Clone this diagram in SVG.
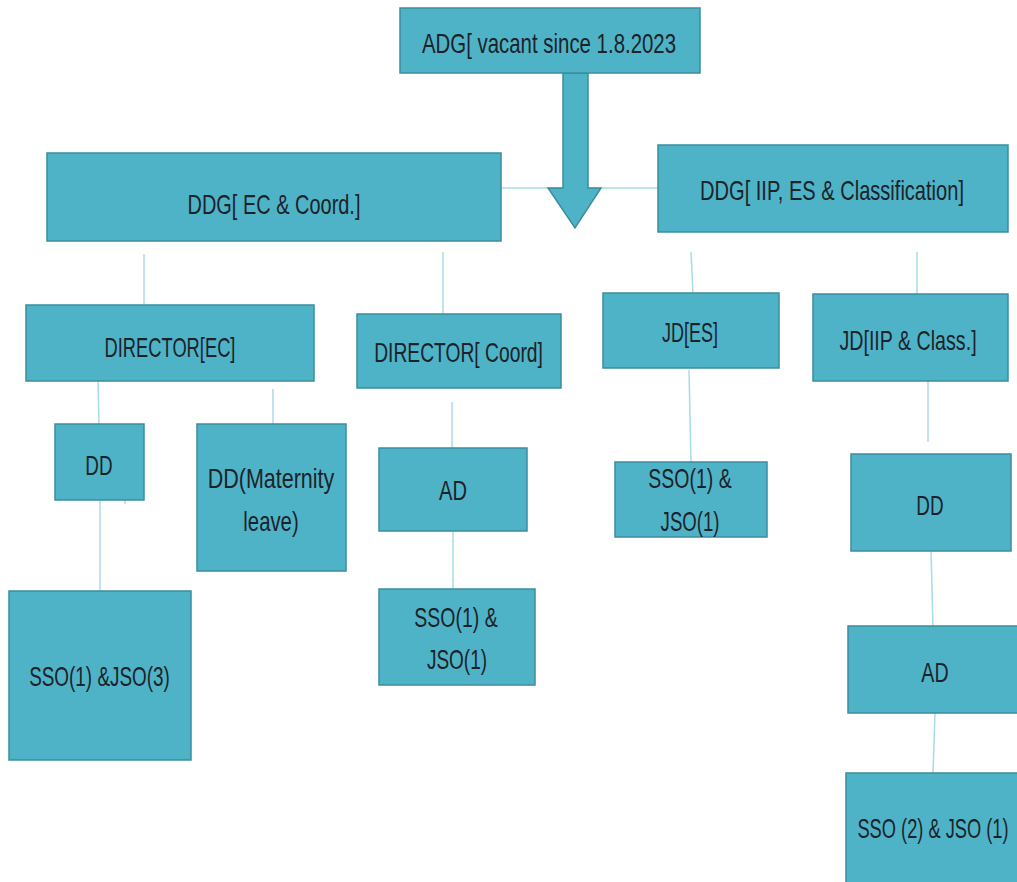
<svg xmlns="http://www.w3.org/2000/svg" width="1017" height="882" viewBox="0 0 1017 882">
<style>
.box{fill:#4fb3c8;stroke:#3b8d9e;stroke-width:1.5}
.t{font-family:"Liberation Sans",Arial,sans-serif;font-size:28px;fill:#1c2328;text-anchor:middle}
.c{stroke:#a9dbe6;stroke-width:1.5;fill:none}
</style>
<rect width="1017" height="882" fill="#ffffff"/>
<g id="connectors">
<line class="c" x1="501" y1="188" x2="658" y2="188"/>
<line class="c" x1="144" y1="254" x2="144" y2="305"/>
<line class="c" x1="443" y1="252" x2="443" y2="314"/>
<line class="c" x1="691" y1="252" x2="693" y2="293"/>
<line class="c" x1="917" y1="252" x2="917" y2="294"/>
<line class="c" x1="98" y1="381" x2="99" y2="424"/>
<line class="c" x1="273" y1="389" x2="273" y2="424"/>
<line class="c" x1="100" y1="500" x2="100" y2="591"/>
<line class="c" x1="125" y1="500" x2="125" y2="504"/>
<line class="c" x1="452" y1="402" x2="452" y2="448"/>
<line class="c" x1="453" y1="531" x2="453" y2="589"/>
<line class="c" x1="689" y1="370" x2="691" y2="462"/>
<line class="c" x1="928" y1="381" x2="928" y2="442"/>
<line class="c" x1="931" y1="551" x2="933" y2="627"/>
<line class="c" x1="935" y1="713" x2="933" y2="773"/>
</g>
<g id="arrow">
<polygon class="box" points="563,73 588,73 588,188 601,188 575,228 548,188 563,188"/>
</g>
<g id="adg">
<rect class="box" x="400" y="8" width="300" height="65"/>
<text class="t" transform="matrix(0.7 0 0 1 549 53)" textLength="363" lengthAdjust="spacingAndGlyphs">ADG[ vacant since 1.8.2023</text>
</g>
<g id="ddg-ec">
<rect class="box" x="47" y="153" width="454" height="88"/>
<text class="t" transform="matrix(0.7 0 0 1 274 214)" textLength="247" lengthAdjust="spacingAndGlyphs">DDG[ EC &amp; Coord.]</text>
</g>
<g id="ddg-iip">
<rect class="box" x="658" y="145" width="350" height="87"/>
<text class="t" transform="matrix(0.7 0 0 1 832 200)" textLength="377" lengthAdjust="spacingAndGlyphs">DDG[ IIP, ES &amp; Classification]</text>
</g>
<g id="director-ec">
<rect class="box" x="26" y="305" width="288" height="76"/>
<text class="t" transform="matrix(0.7 0 0 1 170 357)" textLength="187" lengthAdjust="spacingAndGlyphs">DIRECTOR[EC]</text>
</g>
<g id="director-coord">
<rect class="box" x="357" y="314" width="204" height="74"/>
<text class="t" transform="matrix(0.7 0 0 1 458.5 362)" textLength="241" lengthAdjust="spacingAndGlyphs">DIRECTOR[ Coord]</text>
</g>
<g id="jd-es">
<rect class="box" x="603" y="293" width="176" height="75"/>
<text class="t" transform="matrix(0.7 0 0 1 690 342)" textLength="80" lengthAdjust="spacingAndGlyphs">JD[ES]</text>
</g>
<g id="jd-iip">
<rect class="box" x="813" y="294" width="195" height="87"/>
<text class="t" transform="matrix(0.7 0 0 1 908 350)" textLength="196" lengthAdjust="spacingAndGlyphs">JD[IIP &amp; Class.]</text>
</g>
<g id="dd-ec">
<rect class="box" x="55" y="424" width="89" height="76"/>
<text class="t" transform="matrix(0.7 0 0 1 99 475)" textLength="39" lengthAdjust="spacingAndGlyphs">DD</text>
</g>
<g id="dd-maternity">
<rect class="box" x="197" y="424" width="149" height="147"/>
<text class="t" transform="matrix(0.7 0 0 1 271 488)" textLength="181" lengthAdjust="spacingAndGlyphs">DD(Maternity</text>
<text class="t" transform="matrix(0.7 0 0 1 271 531)" textLength="79" lengthAdjust="spacingAndGlyphs">leave)</text>
</g>
<g id="sso-ec">
<rect class="box" x="9" y="591" width="182" height="169"/>
<text class="t" transform="matrix(0.7 0 0 1 99.5 686)" textLength="201" lengthAdjust="spacingAndGlyphs">SSO(1) &amp;JSO(3)</text>
</g>
<g id="ad-coord">
<rect class="box" x="379" y="448" width="148" height="83"/>
<text class="t" transform="matrix(0.7 0 0 1 453 500)" textLength="40" lengthAdjust="spacingAndGlyphs">AD</text>
</g>
<g id="sso-coord">
<rect class="box" x="379" y="589" width="156" height="96"/>
<text class="t" transform="matrix(0.7 0 0 1 456 627)" textLength="119" lengthAdjust="spacingAndGlyphs">SSO(1) &amp;</text>
<text class="t" transform="matrix(0.7 0 0 1 457 669)" textLength="86" lengthAdjust="spacingAndGlyphs">JSO(1)</text>
</g>
<g id="sso-es">
<rect class="box" x="615" y="462" width="152" height="75"/>
<text class="t" transform="matrix(0.7 0 0 1 690 488)" textLength="119" lengthAdjust="spacingAndGlyphs">SSO(1) &amp;</text>
<text class="t" transform="matrix(0.7 0 0 1 690 531)" textLength="84" lengthAdjust="spacingAndGlyphs">JSO(1)</text>
</g>
<g id="dd-iip">
<rect class="box" x="851" y="454" width="160" height="97"/>
<text class="t" transform="matrix(0.7 0 0 1 930 515)" textLength="39" lengthAdjust="spacingAndGlyphs">DD</text>
</g>
<g id="ad-iip">
<rect class="box" x="848" y="626" width="175" height="87"/>
<text class="t" transform="matrix(0.7 0 0 1 935 682)" textLength="39" lengthAdjust="spacingAndGlyphs">AD</text>
</g>
<g id="sso-iip">
<rect class="box" x="846" y="773" width="180" height="115"/>
<text class="t" transform="matrix(0.7 0 0 1 933 838)" textLength="216" lengthAdjust="spacingAndGlyphs">SSO (2) &amp; JSO (1)</text>
</g>
</svg>
